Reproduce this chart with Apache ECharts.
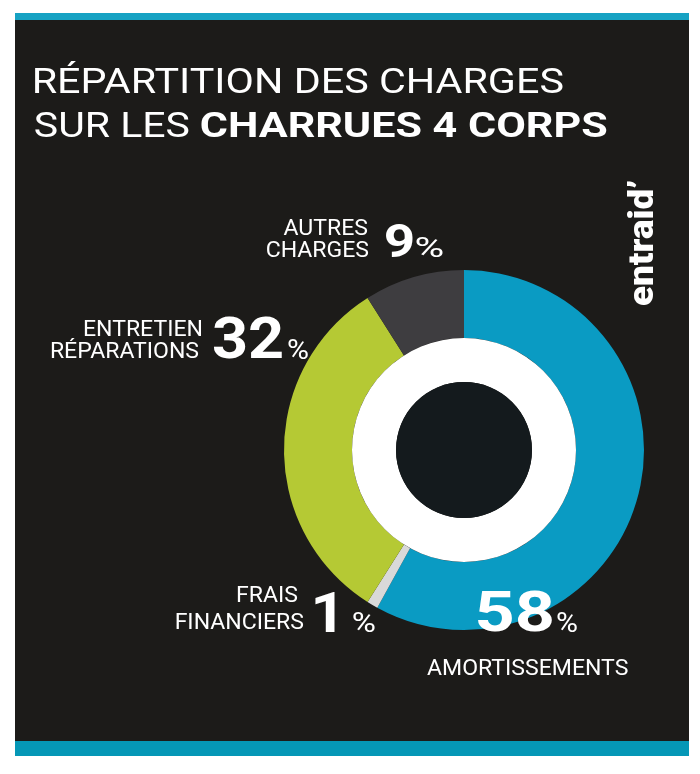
<!DOCTYPE html>
<html><head><meta charset="utf-8">
<script src="https://cdn.jsdelivr.net/npm/echarts@6/dist/echarts.min.js"></script>
<style>html,body{margin:0;padding:0;background:#fff}#c{width:700px;height:774px}</style>
</head><body><div id="c"></div>
<script>
// ---- data ----
const titleLine1 = 'RÉPARTITION DES CHARGES';
const titleLine2Regular = 'SUR LES';
const titleLine2Bold = 'CHARRUES 4 CORPS';
const categories = [['AMORTISSEMENTS'], ['FRAIS', 'FINANCIERS'], ['ENTRETIEN', 'RÉPARATIONS'], ['AUTRES', 'CHARGES']];
const values = [58, 1, 32, 9];
const sliceColors = ['#0a9bc3', '#d9d9d9', '#b5c934', '#3e3d40'];
const logoWord = 'entraid';
const logoMark = '’';

// ---- layout helpers ----
const FAMILY = 'Roboto';
const ctx = document.createElement('canvas').getContext('2d');
function meas(text, size, weight) {
  ctx.font = weight + ' ' + size + 'px ' + FAMILY; ctx.textBaseline = 'middle';
  const m = ctx.measureText(text);
  return { adv: m.width, l: m.actualBoundingBoxLeft, w: m.actualBoundingBoxLeft + m.actualBoundingBoxRight, d: m.actualBoundingBoxDescent };
}
function T(text, x, y, size, weight, align, scaleX, extra) {
  return Object.assign({
    type: 'text', x: x, y: y, scaleX: scaleX || 1, z: 100,
    style: { text: text, fill: '#ffffff', fontSize: size, fontWeight: weight, fontFamily: FAMILY,
      align: align, textAlign: align, verticalAlign: 'middle', textVerticalAlign: 'middle' }
  }, extra || {});
}
// ink fitted between left and right, sitting on baseline
function fitInk(text, left, right, base, size, weight) {
  const k = meas(text, size, weight);
  const s = (right - left) / k.w;
  return T(text, left + k.l * s, base - k.d, size, weight, 'left', s);
}
function label(text, x, base, size, align, s) {
  const k = meas(text, size, 'normal');
  return T(text, x, base - k.d, size, 'normal', align, s);
}
const CX = 464, CY = 450;
const g = [];
g.push({ type: 'rect', z: 0, shape: { x: 15, y: 20, width: 674, height: 721 }, style: { fill: '#1c1b19' } });
g.push({ type: 'rect', z: 0, shape: { x: 15, y: 13, width: 674, height: 7 }, style: { fill: '#17a2c3' } });
g.push({ type: 'rect', z: 0, shape: { x: 15, y: 741, width: 674, height: 15 }, style: { fill: '#0597b6' } });

// title
const TS = 35;
g.push(fitInk(titleLine1, 34, 563, 93, TS, 'normal'));
g.push(fitInk(titleLine2Regular, 35, 189, 137, TS, 'normal'));
g.push(fitInk(titleLine2Bold, 201, 607, 137, TS, 'bold'));

// labels
const LS = 22.5;
const labelScale = 201 / meas(categories[0][0], LS, 'normal').w;
const place = [
  { num: [477, 553, 632, 55], pc: [557, 577, 632], names: [[427, 675, 'left']] },
  { num: [315, 335, 632, 55], pc: [353, 375, 632], names: [[298, 602, 'right'], [304, 629, 'right']] },
  { num: [213, 282, 359, 57.5], pc: [288, 308, 359], names: [[203, 336, 'right'], [199, 358, 'right']] },
  { num: [385, 413, 257, 47], pc: [416, 443, 257], names: [[368, 235, 'right'], [369, 257, 'right']] }
];
values.forEach((v, i) => {
  const p = place[i];
  g.push(fitInk(String(v), p.num[0], p.num[1], p.num[2], p.num[3], 'bold'));
  g.push(fitInk('%', p.pc[0], p.pc[1], p.pc[2], 27, 'normal'));
  categories[i].forEach((line, j) => {
    const n = p.names[j];
    g.push(label(line, n[0], n[1], LS, n[2], labelScale));
  });
});

// logo (rotated, reading bottom to top)
const LG = 35;
const logoScale = 116 / meas(logoWord, LG, 'bold').adv;
g.push(T(logoWord + logoMark, 644, 306, LG, '900', 'left', logoScale, { rotation: Math.PI / 2 }));

const chart = echarts.init(document.getElementById('c'), null, { renderer: 'canvas' });
chart.setOption({
  backgroundColor: '#ffffff',
  animation: false,
  graphic: { elements: g },
  series: [
    {
      type: 'pie', center: [CX, CY], radius: [112, 180], startAngle: 90, clockwise: true, silent: true, z: 2,
      label: { show: false }, labelLine: { show: false }, emphasis: { disabled: true },
      itemStyle: { borderWidth: 0 },
      data: values.map((v, i) => ({ value: v, name: categories[i].join(' '), itemStyle: { color: sliceColors[i] } }))
    },
    {
      type: 'pie', center: [CX, CY], radius: [68, 112], silent: true, z: 3,
      label: { show: false }, labelLine: { show: false }, emphasis: { disabled: true },
      data: [{ value: 1, name: 'ring', itemStyle: { color: '#ffffff' } }]
    },
    {
      type: 'pie', center: [CX, CY], radius: [0, 68], silent: true, z: 3,
      label: { show: false }, labelLine: { show: false }, emphasis: { disabled: true },
      data: [{ value: 1, name: 'core', itemStyle: { color: '#141a1d' } }]
    }
  ]
});
</script></body></html>
